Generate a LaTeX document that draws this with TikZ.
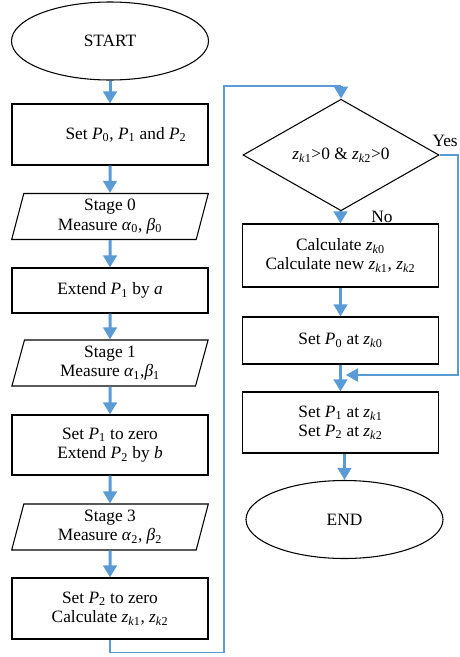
\documentclass[tikz,border=0pt]{standalone}
\usepackage{fontspec}
\setmainfont{Liberation Serif}
\usepackage{tikz}
\usetikzlibrary{shapes.geometric}
\usetikzlibrary{arrows.meta}

\definecolor{flowblue}{HTML}{5B9BD5}
\newcommand{\Pn}[1]{\textit{P}\textsubscript{#1}}
\newcommand{\zk}[1]{\textit{z}\textsubscript{\textit{k}#1}}
\newcommand{\gr}[2]{\textit{#1}\textsubscript{#2}}

\begin{document}
\begin{tikzpicture}[x=0.75pt,y=-0.75pt,
   every node/.style={font=\fontsize{13}{14.5}\selectfont, inner sep=0pt},
   term/.style={draw, ellipse, line width=0.8pt, minimum width=147.75pt, minimum height=58.5pt},
   proc/.style={draw, rectangle, line width=0.8pt, minimum width=147pt, align=center},
   io/.style={draw, trapezium, trapezium left angle=78, trapezium right angle=102,
              trapezium stretches=true, line width=0.8pt, minimum width=147.75pt,
              minimum height=34.5pt, align=center},
   dec/.style={draw, diamond, line width=0.8pt, minimum width=147pt, minimum height=63pt},
   flow/.style={flowblue, line width=2.25pt, -{Triangle[width=10pt,length=9pt]}},
   loop/.style={flowblue, line width=0.9pt},
   loopflow/.style={loop, -{Triangle[width=10pt,length=9pt]}}]
   \useasboundingbox (0,0) rectangle (460,657);
   % left column
   \node[term] (start) at (110,41) {START};
   \node[proc, minimum height=45.75pt] (setp) at (110,134.5) {\hspace*{24pt}Set \Pn{0}, \Pn{1} and \Pn{2}};
   \node[io] (stage0) at (110,216.5) {Stage 0\\Measure \gr{α}{0}, \gr{β}{0}};
   \node[proc, minimum height=33.75pt] (ext1) at (110,290.5) {Extend \Pn{1} by \textit{a}};
   \node[io] (stage1) at (110,363) {Stage 1\\Measure \gr{α}{1},\gr{β}{1}};
   \node[proc, minimum height=45pt] (ext2) at (110,445) {Set \Pn{1} to zero\\Extend \Pn{2} by \textit{b}};
   \node[io] (stage3) at (110,527) {Stage 3\\Measure \gr{α}{2}, \gr{β}{2}};
   \node[proc, minimum height=45.75pt] (calc) at (110,608.5) {Set \Pn{2} to zero\\Calculate \zk{1}, \zk{2}};
   %
   \draw[flow] (start) -- (setp);
   \draw[flow] (setp) -- (stage0);
   \draw[flow] (stage0) -- (ext1);
   \draw[flow] (ext1) -- (stage1);
   \draw[flow] (stage1) -- (ext2);
   \draw[flow] (ext2) -- (stage3);
   \draw[flow] (stage3) -- (calc);
   % right column
   \node[dec] (test) at (341,155) {\zk{1}>0 \& \zk{2}>0};
   \node[proc, minimum height=47.25pt] (new) at (340.5,255.5) {Calculate \zk{0}\\Calculate new \zk{1}, \zk{2}};
   \node[proc, minimum height=35.25pt] (setp0) at (340.5,340.5) {Set \Pn{0} at \zk{0}};
   \node[proc, minimum height=45.75pt] (setp12) at (340.5,422.5) {Set \Pn{1} at \zk{1}\\Set \Pn{2} at \zk{2}};
   \node[term] (end) at (344.5,519.5) {END};
   \node[anchor=east] (yes) at (458,141) {Yes};
   \node[anchor=west] (no) at (371,217) {No};
   %
   \draw[flow] (test.south -| new.north) -- (new.north);
   \draw[flow] (new.south) -- (setp0.north);
   \draw[flow] (setp0.south) -- (setp12.north);
   \draw[flow] (setp12.south -| end.north) -- (end.north);
   % loop back and yes branch
   \coordinate (lp) at (224,86);
   \draw[loop] (calc.south) -- ++(0,13) -| (lp) -- (lp -| test.north);
   \draw[flow] (lp -| test.north) -- (test.north);
   \coordinate (yc) at (458,375);
   \coordinate (join) at (346,375);
   \draw[loopflow] (test.east) -| (yc) -- (join);
\end{tikzpicture}
\end{document}
